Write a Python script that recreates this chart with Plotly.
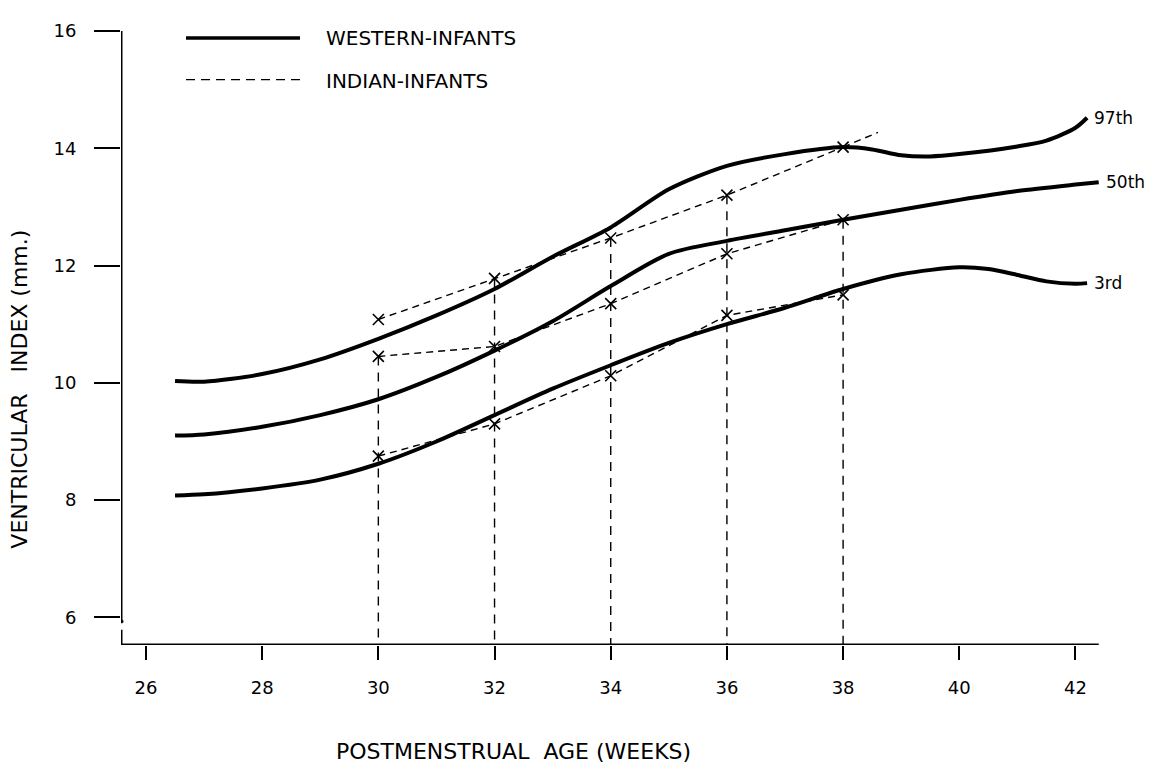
import plotly.graph_objects as go

# ---- data ----
weeks_w = [26.5, 27, 28, 29, 30, 31, 32, 33, 34, 35, 36, 37, 38, 38.5, 39, 39.5, 40, 41, 41.5, 42, 42.2]
west_97 = [10.03, 10.02, 10.15, 10.4, 10.75, 11.15, 11.6, 12.15, 12.65, 13.3, 13.7, 13.9, 14.02, 13.98, 13.88, 13.86, 13.9, 14.03, 14.13, 14.35, 14.52]

weeks_w50 = [26.5, 27, 28, 29, 30, 31, 32, 33, 34, 35, 36, 37, 38, 39, 40, 41, 42, 42.4]
west_50 = [9.1, 9.12, 9.25, 9.45, 9.72, 10.1, 10.55, 11.05, 11.65, 12.2, 12.42, 12.6, 12.78, 12.95, 13.12, 13.27, 13.38, 13.42]

weeks_w3 = [26.5, 27, 28, 29, 30, 31, 32, 33, 34, 35, 36, 37, 38, 39, 40, 40.5, 41, 41.5, 42, 42.2]
west_3 = [8.08, 8.1, 8.2, 8.35, 8.62, 9.0, 9.45, 9.9, 10.3, 10.68, 11.0, 11.28, 11.6, 11.85, 11.97, 11.94, 11.84, 11.73, 11.69, 11.7]

weeks_i = [30, 32, 34, 36, 38]
ind_97 = [11.08, 11.78, 12.47, 13.2, 14.02]
ind_97_ext_x = [38, 38.6]
ind_97_ext_y = [14.02, 14.27]
ind_50 = [10.45, 10.62, 11.35, 12.2, 12.78]
ind_3 = [8.75, 9.3, 10.12, 11.15, 11.5]
drop_top = [10.45, 11.78, 12.47, 13.2, 12.78]

x_ticks = [26, 28, 30, 32, 34, 36, 38, 40, 42]
y_ticks = [6, 8, 10, 12, 14, 16]

pct_labels = ["97th", "50th", "3rd"]

XMIN, XMAX = 25.57, 43.3
YMIN, YMAX = 5.53, 16.05
FONT = "DejaVu Sans"
ML, MR, MT, MB = 113, 24, 16, 142
W, H = 1167, 779
PW, PH = W - ML - MR, H - MT - MB


def px(x):
    return (x - ML) / PW


def py(y):
    return (H - MB - y) / PH


fig = go.Figure()

# vertical drop lines
for wx, top in zip(weeks_i, drop_top):
    fig.add_trace(go.Scatter(x=[wx, wx], y=[top, YMIN], mode="lines",
                             line=dict(color="black", width=1.4, dash="9px,7px"),
                             hoverinfo="skip", showlegend=False))

# western curves
for xs, ys in [(weeks_w, west_97), (weeks_w50, west_50), (weeks_w3, west_3)]:
    fig.add_trace(go.Scatter(x=xs, y=ys, mode="lines",
                             line=dict(color="black", width=4, shape="spline", smoothing=0.8),
                             showlegend=False))

# indian curves
for ys in [ind_97, ind_50, ind_3]:
    fig.add_trace(go.Scatter(x=weeks_i, y=ys, mode="lines+markers",
                             line=dict(color="black", width=1.4, dash="7px,5px"),
                             marker=dict(symbol="x-thin", size=11,
                                         line=dict(color="black", width=1.6)),
                             showlegend=False))
fig.add_trace(go.Scatter(x=ind_97_ext_x, y=ind_97_ext_y, mode="lines",
                         line=dict(color="black", width=1.4, dash="7px,5px"),
                         showlegend=False))

# percentile labels at curve ends
for lab, xs, ys in zip(pct_labels, [weeks_w, weeks_w50, weeks_w3], [west_97, west_50, west_3]):
    fig.add_annotation(x=xs[-1], y=ys[-1], text=lab, showarrow=False,
                       xanchor="left", xshift=5, font=dict(family=FONT, size=17, color="black"))

shapes = []
# x axis line
shapes.append(dict(type="line", xref="x", yref="y", x0=XMIN, x1=42.4, y0=YMIN, y1=YMIN,
                   line=dict(color="black", width=3)))
# y axis line (upper part, axis break, lower stub)
shapes.append(dict(type="line", xref="x", yref="y", x0=XMIN, x1=XMIN, y0=16, y1=5.9,
                   line=dict(color="black", width=3)))
shapes.append(dict(type="line", xref="x", yref="y", x0=XMIN - 0.3, x1=XMIN + 0.04, y0=5.84, y1=5.94,
                   line=dict(color="black", width=2.5)))
shapes.append(dict(type="line", xref="x", yref="y", x0=XMIN, x1=XMIN, y0=5.79, y1=YMIN,
                   line=dict(color="black", width=3)))
shapes.append(dict(type="line", xref="x", yref="y", x0=XMIN - 0.28, x1=XMIN, y0=5.75, y1=5.8,
                   line=dict(color="black", width=2.5)))
# manual legend lines
shapes.append(dict(type="line", xref="paper", yref="paper", x0=px(178), x1=px(292), y0=py(26), y1=py(26),
                   line=dict(color="black", width=3.5)))
shapes.append(dict(type="line", xref="paper", yref="paper", x0=px(178), x1=px(292), y0=py(68), y1=py(68),
                   line=dict(color="black", width=1.4, dash="9px,6px")))
fig.update_layout(shapes=shapes)

fig.add_annotation(xref="paper", yref="paper", x=px(316), y=py(26), text="WESTERN-INFANTS",
                   showarrow=False, xanchor="left", yanchor="middle",
                   font=dict(family=FONT, size=20, color="black"))
fig.add_annotation(xref="paper", yref="paper", x=px(316), y=py(69), text="INDIAN-INFANTS",
                   showarrow=False, xanchor="left", yanchor="middle",
                   font=dict(family=FONT, size=20, color="black"))
# axis titles
fig.add_annotation(xref="paper", yref="paper", x=px(505), y=py(744), text="POSTMENSTRUAL  AGE (WEEKS)",
                   showarrow=False, xanchor="center", yanchor="middle",
                   font=dict(family=FONT, size=22, color="black"))
fig.add_annotation(xref="paper", yref="paper", x=px(12), y=py(380), text="VENTRICULAR   INDEX (mm.)",
                   showarrow=False, xanchor="center", yanchor="middle", textangle=-90,
                   font=dict(family=FONT, size=22, color="black"))

fig.update_layout(
    width=W, height=H,
    margin=dict(l=ML, r=MR, t=MT, b=MB),
    paper_bgcolor="white", plot_bgcolor="white",
    xaxis=dict(range=[XMIN, XMAX], tickvals=x_ticks, showgrid=False, zeroline=False,
               showline=False, ticks="outside", ticklen=14, tickwidth=2, tickcolor="black",
               ticklabelstandoff=12,
               tickfont=dict(family=FONT, size=18, color="black")),
    yaxis=dict(range=[YMIN, YMAX], tickvals=y_ticks, showgrid=False, zeroline=False,
               showline=False, ticks="outside", ticklen=26, tickwidth=2, tickcolor="black",
               ticklabelstandoff=14,
               tickfont=dict(family=FONT, size=18, color="black")),
    showlegend=False,
)

fig.write_html("out.html")
